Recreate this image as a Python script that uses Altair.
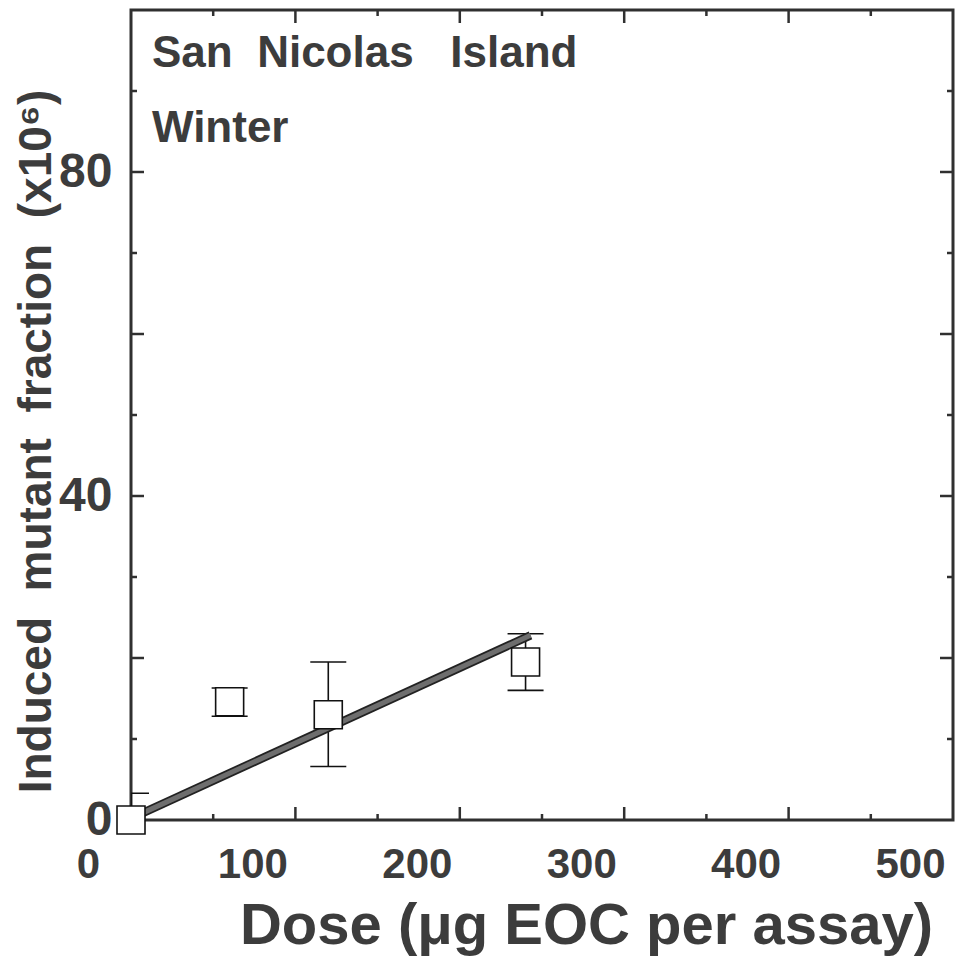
import altair as alt
import pandas as pd

# ---- data ----
dose = [0, 60, 120, 240]
mutant_fraction = [0.0, 14.6, 13.0, 19.5]
err_low = [-3.3, 12.8, 6.6, 16.0]
err_high = [3.3, 16.3, 19.5, 23.0]
fit_dose = [0, 243]
fit_mf = [0.2, 22.8]
x_major = [100, 200, 300, 400]
x_minor = [50, 150, 250, 350, 450]
y_major = [20, 40, 60, 80]
y_minor = [10, 30, 50, 70, 90]
x_label_values = [0, 100, 200, 300, 400, 500]
y_label_values = [0, 40, 80]
annot_1 = "San\u00a0\u00a0Nicolas\u00a0\u00a0\u00a0Island"
annot_2 = "Winter"
x_title = "Dose (\u03bcg EOC per assay)"
y_title = "Induced\u00a0\u00a0mutant\u00a0\u00a0fraction\u00a0\u00a0(x10\u2076)"

W, H = 822, 810
FONT = "Liberation Sans"
INK = "#3c3c3c"
FRAME = "#303030"

pts = pd.DataFrame({"dose": dose, "mf": mutant_fraction, "lo": err_low, "hi": err_high})
fit = pd.DataFrame({"dose": fit_dose, "mf": fit_mf})

xs = alt.Scale(domain=[0, 500], nice=False, zero=False)
ys = alt.Scale(domain=[0, 100], nice=False, zero=False)

x_axis = alt.Axis(
    values=x_label_values, title=x_title, labelFont=FONT, labelFontSize=42,
    labelFontWeight="bold", labelColor=INK, labelPadding=24, labelBaseline="top",
    labelOffset=-43, labelFlush=False, labelOverlap=False, domain=False, ticks=False,
    grid=False, titleFont=FONT, titleFontSize=58, titleFontWeight="bold",
    titleColor=INK, titleX=455, titleY=123, titleBaseline="alphabetic",
    titleAlign="center",
)
y_axis = alt.Axis(
    values=y_label_values, title=y_title, labelFont=FONT, labelFontSize=48,
    labelFontWeight="bold", labelColor=INK, labelPadding=19, labelFlush=False,
    labelOverlap=False, domain=False, ticks=False, grid=False,
    titleFont=FONT, titleFontSize=46, titleFontWeight="bold", titleColor=INK,
    titleX=-95, titleY=431, titleBaseline="middle", titleAlign="center", titleAngle=270,
)


def X(field):
    return alt.X(field, scale=xs, axis=x_axis)


def Y(field):
    return alt.Y(field, scale=ys, axis=y_axis)


err_rule = alt.Chart(pts).mark_rule(color="#111", strokeWidth=1.6, clip=True).encode(
    x=X("dose:Q"), y=Y("lo:Q"), y2="hi:Q")
cap_hi = alt.Chart(pts).mark_tick(orient="horizontal", size=36, thickness=1.6,
                                   color="#111", opacity=1, clip=True).encode(
    x=X("dose:Q"), y=Y("hi:Q"))
cap_lo = alt.Chart(pts).mark_tick(orient="horizontal", size=36, thickness=1.6,
                                   color="#111", opacity=1, clip=True).encode(
    x=X("dose:Q"), y=Y("lo:Q"))

fit_outer = alt.Chart(fit).mark_line(color="#222", strokeWidth=8.5, strokeCap="butt").encode(
    x=X("dose:Q"), y=Y("mf:Q"))
fit_inner = alt.Chart(fit).mark_line(color="#6e6e6e", strokeWidth=5, strokeCap="butt").encode(
    x=X("dose:Q"), y=Y("mf:Q"))

squares = alt.Chart(pts).mark_point(shape="square", size=784, filled=True, fill="white",
                                    stroke="#111", strokeWidth=1.6, opacity=1).encode(
    x=X("dose:Q"), y=Y("mf:Q"))


def ticks_x(vals, length, at_bottom):
    d = pd.DataFrame({"dose": vals})
    y0 = H if at_bottom else 0
    y1 = H - length if at_bottom else length
    return alt.Chart(d).mark_rule(color=FRAME, strokeWidth=2.5).encode(
        x=X("dose:Q"), y=alt.value(y0), y2=alt.value(y1))


def ticks_y(vals, length, at_left):
    d = pd.DataFrame({"mf": vals})
    x0 = 0 if at_left else W
    x1 = length if at_left else W - length
    return alt.Chart(d).mark_rule(color=FRAME, strokeWidth=2.5).encode(
        y=Y("mf:Q"), x=alt.value(x0), x2=alt.value(x1))


tick_layers = [
    ticks_x(x_major, 13, True), ticks_x(x_minor, 6, True),
    ticks_x(x_major, 13, False), ticks_x(x_minor, 6, False),
    ticks_y(y_major, 13, True), ticks_y(y_minor, 6, True),
    ticks_y(y_major, 13, False), ticks_y(y_minor, 6, False),
]

text1 = alt.Chart(pd.DataFrame({"t": [annot_1]})).mark_text(
    align="left", baseline="alphabetic", font=FONT, fontSize=44, fontWeight="bold", color=INK
).encode(x=alt.value(21), y=alt.value(57), text="t:N")
text2 = alt.Chart(pd.DataFrame({"t": [annot_2]})).mark_text(
    align="left", baseline="alphabetic", font=FONT, fontSize=44, fontWeight="bold", color=INK
).encode(x=alt.value(21), y=alt.value(132), text="t:N")

chart = alt.layer(
    err_rule, cap_hi, cap_lo, fit_outer, fit_inner, squares, *tick_layers, text1, text2
).properties(
    width=W, height=H,
    autosize=alt.AutoSizeParams(type="none"),
    padding={"left": 131, "top": 10, "right": 4, "bottom": 139},
    background="white",
).configure_view(stroke=FRAME, strokeWidth=3)

chart.save("out.html", embed_options={"renderer": "svg", "actions": False})
